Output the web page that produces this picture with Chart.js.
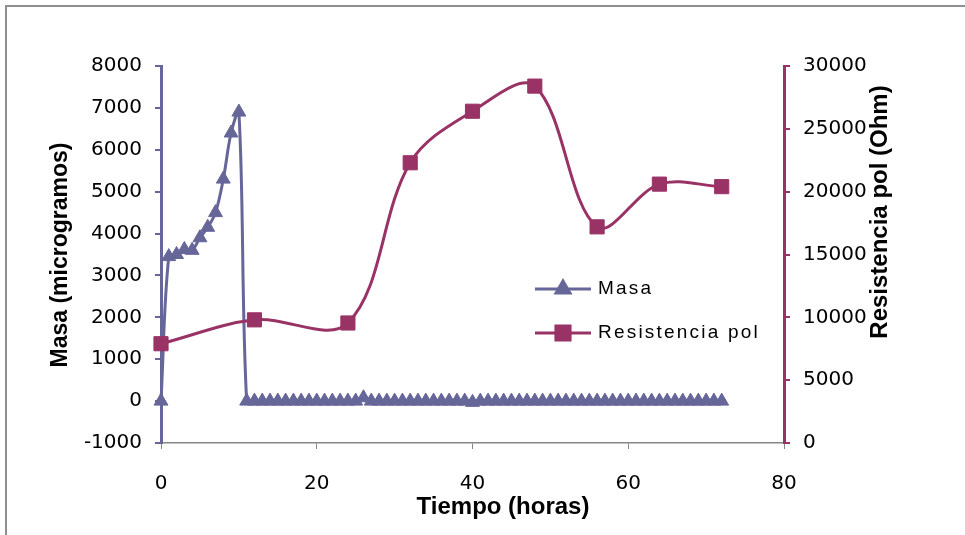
<!DOCTYPE html>
<html>
<head>
<meta charset="utf-8">
<script src="https://cdn.jsdelivr.net/npm/chart.js@4.4.1/dist/chart.umd.min.js"></script>
<style>
  html, body { margin: 0; padding: 0; background: #ffffff; }
  canvas { display: block; }
</style>
</head>
<body>
<canvas id="chart" width="965" height="535"></canvas>
<script>
// Masa: hourly readings (hours, micrograms)
const masaHours = [
  0, 1, 2, 3, 4, 5, 6, 7, 8, 9, 10,
  11, 12, 13, 14, 15, 16, 17, 18, 19, 20, 21, 22, 23, 24, 25, 26, 27, 28, 29, 30,
  31, 32, 33, 34, 35, 36, 37, 38, 39, 40, 41, 42, 43, 44, 45, 46, 47, 48, 49, 50,
  51, 52, 53, 54, 55, 56, 57, 58, 59, 60, 61, 62, 63, 64, 65, 66, 67, 68, 69, 70,
  71, 72
];
const masaValues = [
  0, 3450, 3500, 3620, 3600, 3900, 4150, 4500, 5300, 6400, 6900,
  0, 0, 0, 0, 0, 0, 0, 0, 0, 0, 0, 0, 0, 0, 0, 80, 0, 0, 0, 0,
  0, 0, 0, 0, 0, 0, 0, 0, 0, -30, 0, 0, 0, 0, 0, 0, 0, 0, 0, 0,
  0, 0, 0, 0, 0, 0, 0, 0, 0, 0, 0, 0, 0, 0, 0, 0, 0, 0, 0, 0,
  0, 0
];

// Resistencia de polarización (hours, Ohm)
const resHours = [0, 12, 24, 32, 40, 48, 56, 64, 72];
const resValues = [7900, 9800, 9550, 22300, 26400, 28400, 17200, 20600, 20400];

// Axis ranges
const xRange = { min: 0, max: 80, step: 20 };
const masaRange = { min: -1000, max: 8000, step: 1000 };
const resRange = { min: 0, max: 30000, step: 5000 };

const labels = {
  x: 'Tiempo (horas)',
  masa: 'Masa (microgramos)',
  res: 'Resistencia pol (Ohm)',
  legendMasa: 'Masa',
  legendRes: 'Resistencia pol'
};

const MASA_COLOR = '#666699';
const RES_COLOR = '#993366';
const AXIS_GRAY = '#868686';
const TICK_FONT = { family: 'DejaVu Sans', size: 20 };

function toPoints(xs, ys) {
  return xs.map((x, i) => ({ x: x, y: ys[i] }));
}

function fixedSize(prop, value) {
  return function (scale) { scale[prop] = value; };
}

// plain integers, no thousands separator
function plainTick(value) {
  return String(value);
}

const decorations = {
  id: 'decorations',
  beforeDraw(chart) {
    const ctx = chart.ctx;
    ctx.save();
    ctx.fillStyle = '#ffffff';
    ctx.fillRect(0, 0, chart.width, chart.height);
    ctx.strokeStyle = '#8f8f8f';
    ctx.lineWidth = 2;
    ctx.beginPath();
    ctx.moveTo(6, chart.height + 4);
    ctx.lineTo(6, 6);
    ctx.lineTo(chart.width + 4, 6);
    ctx.stroke();
    ctx.restore();
  },
  afterDraw(chart) {
    const ctx = chart.ctx;
    ctx.save();
    ctx.fillStyle = '#000000';
    ctx.textAlign = 'center';
    ctx.textBaseline = 'middle';

    // axis titles
    ctx.font = 'bold 24px "Liberation Sans"';
    ctx.fillText(labels.x, 503, 507);

    ctx.save();
    ctx.translate(61, 255);
    ctx.rotate(-Math.PI / 2);
    ctx.font = 'bold 23px "Liberation Sans"';
    ctx.fillText(labels.masa, 0, 0);
    ctx.restore();

    ctx.save();
    ctx.translate(880, 212);
    ctx.rotate(-Math.PI / 2);
    ctx.font = 'bold 24px "Liberation Sans"';
    ctx.fillText(labels.res, 0, 0);
    ctx.restore();

    // legend
    const entries = [
      { ds: chart.data.datasets[1], text: labels.legendMasa, y: 289 },
      { ds: chart.data.datasets[0], text: labels.legendRes, y: 333 }
    ];
    entries.forEach(function (e) {
      const ds = e.ds;
      ctx.strokeStyle = ds.borderColor;
      ctx.lineWidth = ds.borderWidth;
      ctx.beginPath();
      ctx.moveTo(535, e.y);
      ctx.lineTo(591, e.y);
      ctx.stroke();
      ctx.fillStyle = ds.pointBackgroundColor;
      ctx.strokeStyle = ds.pointBorderColor;
      Chart.helpers.drawPoint(ctx, {
        pointStyle: ds.pointStyle,
        radius: ds.pointRadius,
        rotation: 0,
        borderWidth: 1
      }, 563, e.y);
      ctx.fillStyle = '#000000';
      ctx.textAlign = 'left';
      ctx.font = '19px "Liberation Sans"';
      ctx.letterSpacing = '2.2px';
      ctx.fillText(e.text, 598, e.y);
      ctx.letterSpacing = '0px';
    });
    ctx.restore();
  }
};

new Chart(document.getElementById('chart'), {
  type: 'line',
  data: {
    datasets: [
      {
        label: labels.legendRes,
        data: toPoints(resHours, resValues),
        yAxisID: 'yRes',
        borderColor: RES_COLOR,
        backgroundColor: RES_COLOR,
        borderWidth: 3,
        pointStyle: 'rect',
        pointRadius: 10,
        pointBackgroundColor: RES_COLOR,
        pointBorderColor: RES_COLOR,
        pointBorderWidth: 1,
        tension: 0.35,
        fill: false,
        clip: false,
        order: 1
      },
      {
        label: labels.legendMasa,
        data: toPoints(masaHours, masaValues),
        yAxisID: 'yMasa',
        borderColor: MASA_COLOR,
        backgroundColor: MASA_COLOR,
        borderWidth: 3,
        pointStyle: 'triangle',
        pointRadius: 8,
        pointBackgroundColor: MASA_COLOR,
        pointBorderColor: MASA_COLOR,
        pointBorderWidth: 1,
        tension: 0.35,
        fill: false,
        clip: false,
        order: 2
      }
    ]
  },
  options: {
    responsive: false,
    animation: false,
    devicePixelRatio: 1,
    layout: { padding: { top: 66, left: 0, right: 0, bottom: 0 } },
    plugins: {
      legend: { display: false },
      tooltip: { enabled: false },
      title: { display: false }
    },
    scales: {
      x: {
        type: 'linear',
        position: 'bottom',
        min: xRange.min,
        max: xRange.max,
        afterFit: fixedSize('height', 92),
        ticks: {
          stepSize: xRange.step,
          color: '#000000',
          font: TICK_FONT,
          padding: 23,
          maxRotation: 0,
          callback: plainTick
        },
        grid: {
          display: true,
          drawOnChartArea: false,
          drawTicks: true,
          tickLength: 6,
          color: AXIS_GRAY,
          lineWidth: 1
        },
        border: { display: true, color: AXIS_GRAY, width: 1.5 }
      },
      yMasa: {
        type: 'linear',
        position: 'left',
        min: masaRange.min,
        max: masaRange.max,
        afterFit: fixedSize('width', 161),
        ticks: {
          stepSize: masaRange.step,
          color: '#000000',
          font: TICK_FONT,
          padding: 13,
          callback: plainTick
        },
        grid: {
          display: true,
          drawOnChartArea: false,
          drawTicks: true,
          tickLength: 6,
          color: MASA_COLOR,
          lineWidth: 2
        },
        border: { display: true, color: MASA_COLOR, width: 3 }
      },
      yRes: {
        type: 'linear',
        position: 'right',
        min: resRange.min,
        max: resRange.max,
        afterFit: fixedSize('width', 181),
        ticks: {
          stepSize: resRange.step,
          color: '#000000',
          font: TICK_FONT,
          padding: 13,
          callback: plainTick
        },
        grid: {
          display: true,
          drawOnChartArea: false,
          drawTicks: true,
          tickLength: 6,
          color: RES_COLOR,
          lineWidth: 2
        },
        border: { display: true, color: RES_COLOR, width: 3 }
      }
    }
  },
  plugins: [decorations]
});
</script>
</body>
</html>
